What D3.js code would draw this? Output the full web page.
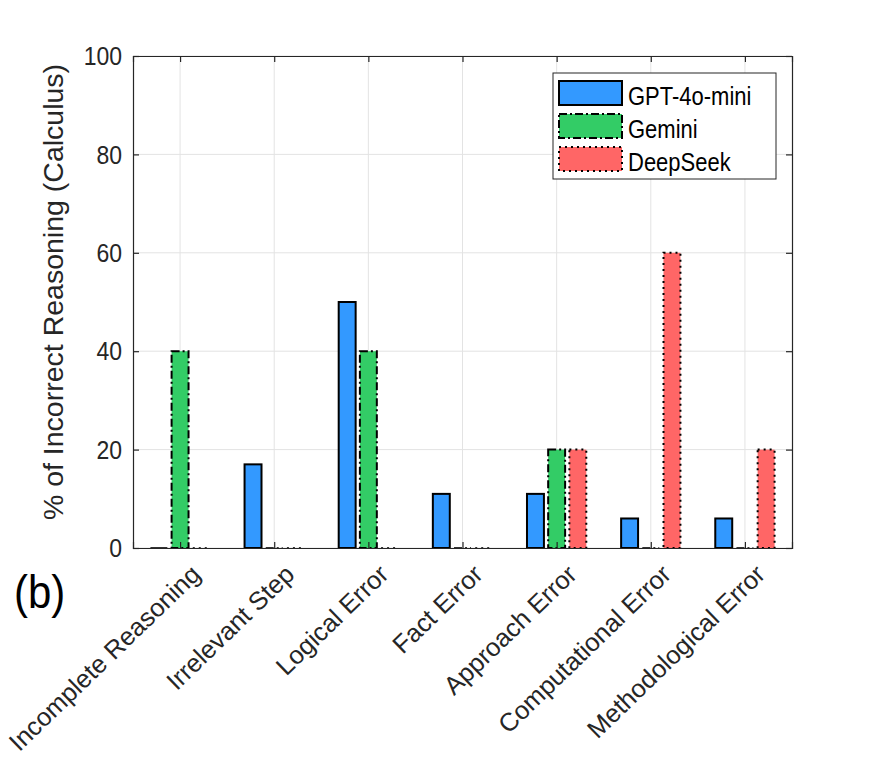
<!DOCTYPE html>
<html>
<head>
<meta charset="utf-8">
<script src="https://cdn.jsdelivr.net/npm/d3@7"></script>
<style>
  body { margin: 0; background: #fff; }
  text { font-family: "Liberation Sans", Arial, Helvetica, sans-serif; }
</style>
</head>
<body>
<div id="chart"></div>
<script>
// Datos
const categories = ["Incomplete Reasoning", "Irrelevant Step", "Logical Error", "Fact Error",
  "Approach Error", "Computational Error", "Methodological Error"];
const gpt = [0, 17, 50, 11, 11, 6, 6];
const gemini = [40, 0, 40, 0, 20, 0, 0];
const deepseek = [0, 0, 0, 0, 20, 60, 20];
const yTicks = [0, 20, 40, 60, 80, 100];

const series = [
  {name: "GPT-4o-mini", values: gpt, color: "#3399ff", dash: null},
  {name: "Gemini", values: gemini, color: "#33cc66", dash: "8,3,2,3"},
  {name: "DeepSeek", values: deepseek, color: "#ff6666", dash: "2,4"}
];

const W = 875, H = 758;
const margin = {top: 56, right: 83, bottom: 210, left: 133};
const width = W - margin.left - margin.right,
      height = H - margin.top - margin.bottom;

const svg = d3.select("#chart").append("svg")
  .attr("width", W).attr("height", H);

const g = svg.append("g")
  .attr("transform", `translate(${margin.left},${margin.top})`);

// Escalas (categorias 1..7, xlim [0.5, 7.5])
const x = d3.scaleLinear().domain([0.5, 7.5]).range([0, width]);
const y = d3.scaleLinear().domain([0, 100]).range([height, 0]);

const axisColor = "#262626";
const unit = x(1) - x(0);
const barW = 0.18 * unit;
const offsets = [-0.225, 0, 0.225];

// Rejilla
g.append("g").selectAll("line").data(yTicks).join("line")
  .attr("x1", 0).attr("x2", width)
  .attr("y1", d => y(d)).attr("y2", d => y(d))
  .attr("stroke", "#e3e3e3").attr("stroke-width", 1);
g.append("g").selectAll("line").data(categories).join("line")
  .attr("x1", (d, i) => x(i + 1)).attr("x2", (d, i) => x(i + 1))
  .attr("y1", 0).attr("y2", height)
  .attr("stroke", "#e3e3e3").attr("stroke-width", 1);

// Barras
series.forEach((s, si) => {
  const grp = g.append("g");
  grp.selectAll("rect").data(s.values.map((v, i) => ({v, i})).filter(d => d.v > 0)).join("rect")
    .attr("x", d => x(d.i + 1 + offsets[si]) - barW / 2)
    .attr("y", d => y(d.v))
    .attr("width", barW)
    .attr("height", d => y(0) - y(d.v))
    .attr("fill", s.color)
    .attr("stroke", "#000")
    .attr("stroke-width", 2)
    .attr("stroke-dasharray", s.dash);
  // barras de altura cero: solo el borde sobre la base
  grp.selectAll("line").data(s.values.map((v, i) => ({v, i})).filter(d => d.v === 0)).join("line")
    .attr("x1", d => x(d.i + 1 + offsets[si]) - barW / 2)
    .attr("x2", d => x(d.i + 1 + offsets[si]) + barW / 2)
    .attr("y1", y(0)).attr("y2", y(0))
    .attr("stroke", "#333")
    .attr("stroke-width", 2)
    .attr("stroke-dasharray", s.dash);
});

// Ejes
const yAxis = g.append("g")
  .call(d3.axisLeft(y).tickValues(yTicks).tickSize(-6).tickFormat(""));
const yAxisR = g.append("g")
  .attr("transform", `translate(${width},0)`)
  .call(d3.axisRight(y).tickValues(yTicks).tickSize(-6).tickFormat(""));
const xAxis = g.append("g")
  .attr("transform", `translate(0,${height})`)
  .call(d3.axisBottom(x).tickValues(d3.range(1, 8)).tickSize(-6).tickFormat(""));
const xAxisT = g.append("g")
  .call(d3.axisTop(x).tickValues(d3.range(1, 8)).tickSize(-6).tickFormat(""));

[yAxis, yAxisR, xAxis, xAxisT].forEach(a => {
  a.select(".domain").attr("stroke", axisColor).attr("stroke-width", 1.2);
  a.selectAll(".tick line").attr("stroke", axisColor).attr("stroke-width", 1.2);
});

// Etiquetas y
g.append("g").selectAll("text").data(yTicks).join("text")
  .attr("transform", d => `translate(-11,${y(d)}) scale(1,1.1)`)
  .attr("text-anchor", "end")
  .attr("dy", "0.36em")
  .attr("fill", axisColor)
  .attr("font-size", 23)
  .text(d => d);

// Etiquetas x rotadas
g.append("g").selectAll("text").data(categories).join("text")
  .attr("transform", (d, i) => `translate(${x(i + 1) + 9},${height + 15}) rotate(-44)`)
  .attr("text-anchor", "end")
  .attr("dy", "0.72em")
  .attr("fill", axisColor)
  .attr("font-size", 25.5)
  .text(d => d);

// Titulo eje y
svg.append("text")
  .attr("transform", "translate(63,292) rotate(-90)")
  .attr("text-anchor", "middle")
  .attr("fill", axisColor)
  .attr("font-size", 28.5)
  .text("% of Incorrect Reasoning (Calculus)");

// (b)
svg.append("text")
  .attr("transform", "translate(14,608) scale(1,1.1)")
  .attr("fill", "#000")
  .attr("font-size", 42)
  .text("(b)");

// Leyenda
const legend = svg.append("g").attr("transform", "translate(553,73)");
legend.append("rect")
  .attr("width", 223).attr("height", 106)
  .attr("fill", "#fff").attr("stroke", axisColor).attr("stroke-width", 1);
series.forEach((s, i) => {
  const row = legend.append("g").attr("transform", `translate(6,${8 + i * 33})`);
  row.append("rect")
    .attr("width", 63).attr("height", 24)
    .attr("fill", s.color).attr("stroke", "#000")
    .attr("stroke-width", 2).attr("stroke-dasharray", s.dash);
  row.append("text")
    .attr("transform", "translate(69,24) scale(1,1.2)")
    .attr("font-size", 22).attr("fill", "#000")
    .text(s.name);
});
</script>
</body>
</html>
